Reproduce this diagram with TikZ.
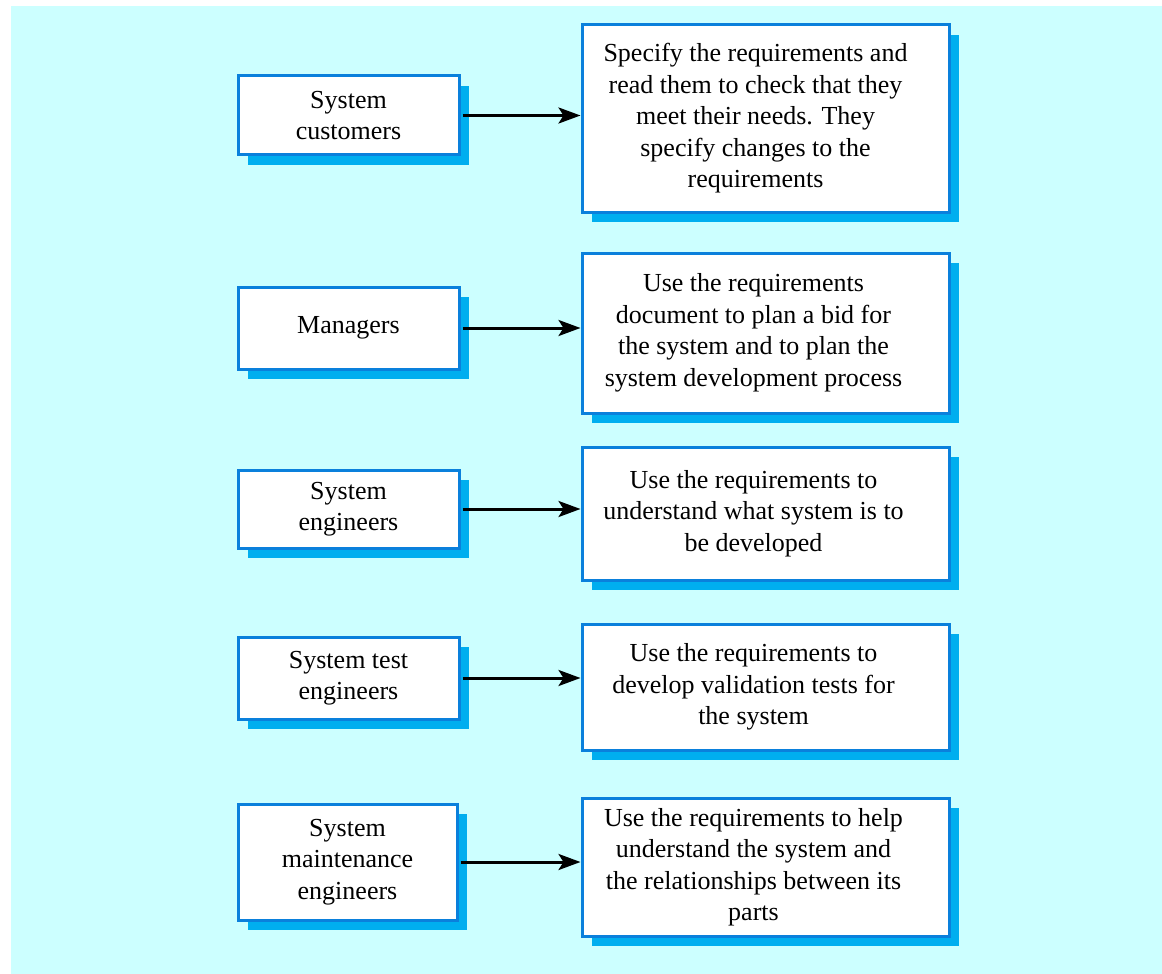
\documentclass[tikz,border=0pt]{standalone}
\usepackage{fontspec}
\setmainfont{Liberation Serif}
\usetikzlibrary{arrows.meta,shadows}
\definecolor{bgc}{HTML}{CCFFFF}
\definecolor{edgec}{HTML}{0A80DC}
\definecolor{shadc}{HTML}{00AEEF}
\begin{document}
\begin{tikzpicture}[x=0.5pt,y=-0.5pt,
  box/.style={draw=edgec, line width=1.5pt, fill=white, rectangle, inner sep=0pt,
    font=\fontsize{13pt}{15.75pt}\selectfont, align=center,
    drop shadow={shadow xshift=5pt,shadow yshift=-5pt,fill=shadc,opacity=1}},
  lbox/.style={box, minimum width=110.5pt},
  rbox/.style={box, minimum width=183.5pt},
  rtext/.style={font=\fontsize{13pt}{15.75pt}\selectfont, align=center, inner sep=0pt},
  conn/.style={-{Stealth[length=11pt,width=8pt,inset=2.5pt]}, line width=1.5pt, black, shorten <=1pt}]
\useasboundingbox (0,0) rectangle (1162,974);
\fill[bgc] (11,6) rectangle (1162,974);
% left boxes
\node[lbox, minimum height=39.5pt] (l1) at (348.5,115.5) {System\\customers};
\node[lbox, minimum height=41pt] (l2) at (348.5,328) {Managers};
\node[lbox, minimum height=39pt] (l3) at (348.5,509) {System\\engineers};
\node[lbox, minimum height=41pt] (l4) at (348.5,678) {System test\\engineers};
\node[lbox, minimum height=58pt, minimum width=109.5pt] (l5) at (347.5,862) {System\\maintenance\\engineers};
% right boxes
\node[rbox, minimum height=93.5pt] (r1) at (765.5,118.5) {};
\node[rbox, minimum height=80pt] (r2) at (765.5,333) {};
\node[rbox, minimum height=66.5pt] (r3) at (765.5,513.5) {};
\node[rbox, minimum height=63pt] (r4) at (765.5,687) {};
\node[rbox, minimum height=69pt] (r5) at (765.5,867) {};
\node[rtext] (t1) at ([xshift=-5pt]r1.center) {Specify the requirements and\\read them to check that they\\meet their needs. They\\specify changes to the\\requirements};
\node[rtext] (t2) at ([xshift=-6pt]r2.center) {Use the requirements\\document to plan a bid for\\the system and to plan the\\system development process};
\node[rtext] (t3) at ([xshift=-6pt]r3.center) {Use the requirements to\\understand what system is to\\be developed};
\node[rtext] (t4) at ([xshift=-6pt]r4.center) {Use the requirements to\\develop validation tests for\\the system};
\node[rtext] (t5) at ([xshift=-6pt]r5.center) {Use the requirements to help\\understand the system and\\the relationships between its\\parts};
% connectors
\draw[conn] (l1.east) -- (l1.east -| r1.west);
\draw[conn] (l2.east) -- (l2.east -| r2.west);
\draw[conn] (l3.east) -- (l3.east -| r3.west);
\draw[conn] (l4.east) -- (l4.east -| r4.west);
\draw[conn] (l5.east) -- (l5.east -| r5.west);
\end{tikzpicture}
\end{document}
